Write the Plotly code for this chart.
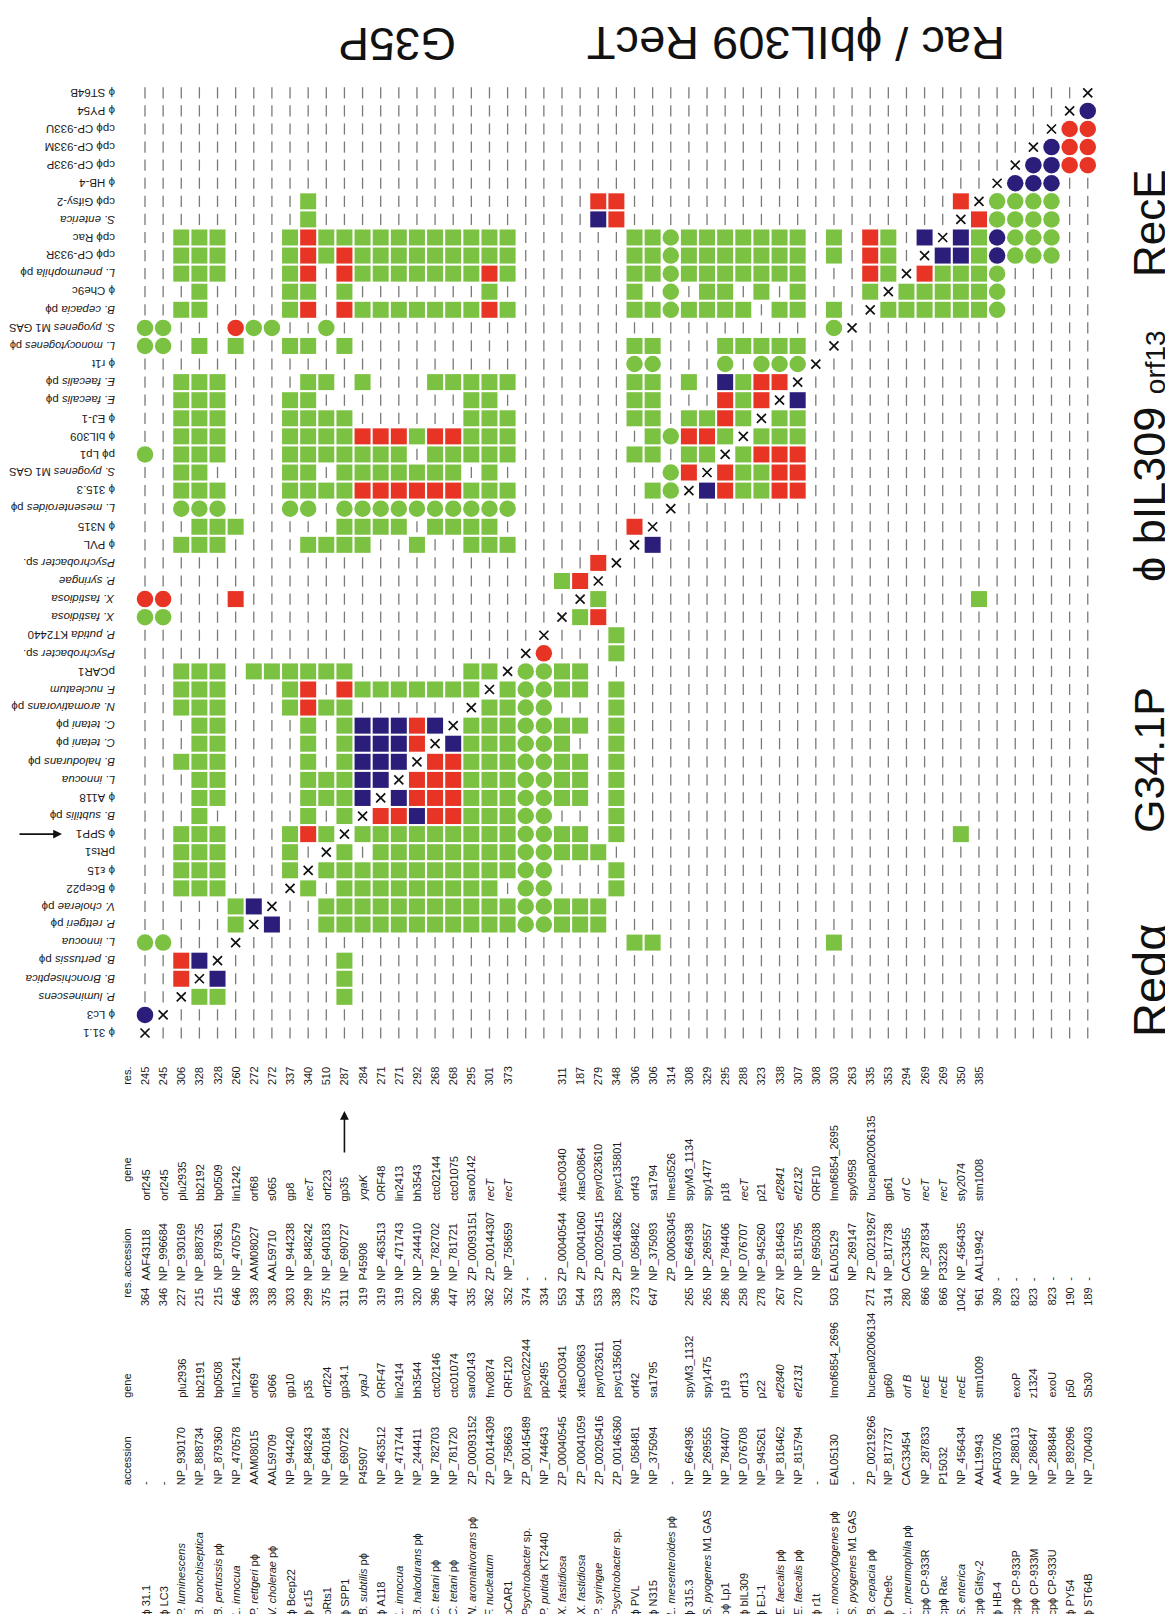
import re
import plotly.graph_objects as go

# ---------------- data ----------------
row_labels = ["ϕ 31.1", "ϕ Lc3", "<i>P. luminescens</i>", "<i>B. Bronchiseptica</i>", "<i>B. pertussis</i> pϕ",
              "<i>L. innocua</i>", "<i>P. rettgeri</i> pϕ", "<i>V. cholerae</i> pϕ", "ϕ Bcep22", "ϕ ε15", "pRts1",
              "ϕ SPP1", "<i>B. subtilis</i> pϕ", "ϕ A118", "<i>L. innocua</i>", "<i>B. halodurans</i> pϕ",
              "<i>C. tetani</i> pϕ", "<i>C. tetani</i> pϕ", "<i>N. aromativorans</i> pϕ", "<i>F. nucleatum</i>",
              "pCAR1", "<i>Psychrobacter</i> sp.", "<i>P. putida</i> KT2440", "<i>X. fastidiosa</i>",
              "<i>X. fastidiosa</i>", "<i>P. syringae</i>", "<i>Psychrobacter</i> sp.", "ϕ PVL", "ϕ N315",
              "<i>L. mesenteroides</i> pϕ", "ϕ 315.3", "<i>S. pyogenes</i> M1 GAS", "pϕ Lp1", "ϕ bIL309", "ϕ EJ-1",
              "<i>E. faecalis</i> pϕ", "<i>E. faecalis</i> pϕ", "ϕ r1t", "<i>L. monocytogenes</i> pϕ",
              "<i>S. pyogenes</i> M1 GAS", "<i>B. cepacia</i> pϕ", "ϕ Che9c", "<i>L. pneumophila</i> pϕ",
              "cpϕ CP-933R", "cpϕ Rac", "<i>S. enterica</i>", "cpϕ Gifsy-2", "ϕ HB-4", "cpϕ CP-933P",
              "cpϕ CP-933M", "cpϕ CP-933U", "ϕ PY54", "ϕ ST64B"]

table_names = ["ϕ 31.1", "ϕ LC3", "<i>P. luminescens</i>", "<i>B. bronchiseptica</i>", "<i>B. pertussis</i> pϕ",
               "<i>L. innocua</i>", "<i>P. rettgeri</i> pϕ", "<i>V. cholerae</i> pϕ", "ϕ Bcep22", "ϕ ε15", "pRts1",
               "ϕ SPP1", "<i>B. subtilis</i> pϕ", "ϕ A118", "<i>L. innocua</i>", "<i>B. halodurans</i> pϕ",
               "<i>C. tetani</i> pϕ", "<i>C. tetani</i> pϕ", "<i>N. aromativorans</i> pϕ", "<i>F. nucleatum</i>",
               "pCAR1", "<i>Psychrobacter</i> sp.", "<i>P. putida</i> KT2440", "<i>X. fastidiosa</i>",
               "<i>X. fastidiosa</i>", "<i>P. syringae</i>", "<i>Psychrobacter</i> sp.", "ϕ PVL", "ϕ N315",
               "<i>L. mesenteroides</i> pϕ", "ϕ 315.3", "<i>S. pyogenes</i> M1 GAS", "pϕ Lp1", "ϕ bIL309", "ϕ EJ-1",
               "<i>E. faecalis</i> pϕ", "<i>E. faecalis</i> pϕ", "ϕ r1t", "<i>L. monocytogenes</i> pϕ",
               "<i>S. pyogenes</i> M1 GAS", "<i>B. cepacia</i> pϕ", "ϕ Che9c", "<i>L. pneumophila</i> pϕ",
               "cpϕ CP-933R", "cpϕ Rac", "<i>S. enterica</i>", "cpϕ Gifsy-2", "ϕ HB-4", "cpϕ CP-933P",
               "cpϕ CP-933M", "cpϕ CP-933U", "ϕ PY54", "ϕ ST64B"]

acc1 = ["-", "-", "NP_930170", "NP_888734", "NP_879360", "NP_470578", "AAM08015", "AAL59709", "NP_944240",
        "NP_848243", "NP_640184", "NP_690722", "P45907", "NP_463512", "NP_471744", "NP_244411", "NP_782703",
        "NP_781720", "ZP_00093152", "ZP_00144309", "NP_758663", "ZP_00145489", "NP_744643", "ZP_00040545",
        "ZP_00041059", "ZP_00205416", "ZP_00146360", "NP_058481", "NP_375094", "-", "NP_664936", "NP_269555",
        "NP_784407", "NP_076708", "NP_945261", "NP_816462", "NP_815794", "-", "EAL05130", "-", "ZP_00219266",
        "NP_817737", "CAC33454", "NP_287833", "P15032", "NP_456434", "AAL19943", "AAF03706", "NP_288013",
        "NP_286847", "NP_288484", "NP_892096", "NP_700403"]

gene1 = ["", "", "plu2936", "bb2191", "bp0508", "lin12241", "orf69", "s066", "gp10", "p35", "orf224", "gp34.1",
         "<i>yqaJ</i>", "ORF47", "lin2414", "bh3544", "ctc02146", "ctc01074", "saro0143", "fnv0874", "ORF120",
         "psyc022244", "pp2495", "xfasO0341", "xfasO0863", "psyr023611", "psyc135601", "orf42", "sa1795", "",
         "spyM3_1132", "spy1475", "p19", "orf13", "p22", "<i>ef2840</i>", "<i>ef2131</i>", "", "lmof6854_2696", "",
         "bucepa02006134", "gp60", "<i>orf B</i>", "<i>recE</i>", "<i>recE</i>", "<i>recE</i>", "stm1009", "",
         "exoP", "z1324", "exoU", "p50", "Sb30"]

res1 = ["364", "346", "227", "215", "215", "646", "338", "338", "303", "299", "375", "311", "319", "319", "319",
        "320", "396", "447", "335", "362", "352", "374", "334", "553", "544", "533", "338", "273", "647", "",
        "265", "265", "286", "258", "278", "267", "270", "", "503", "", "271", "314", "280", "866", "866", "1042",
        "961", "309", "823", "823", "823", "190", "189"]

acc2 = ["AAF43118", "NP_996684", "NP_930169", "NP_888735", "NP_879361", "NP_470579", "AAM08027", "AAL59710",
        "NP_944238", "NP_848242", "NP_640183", "NP_690727", "P45908", "NP_463513", "NP_471743", "NP_244410",
        "NP_782702", "NP_781721", "ZP_00093151", "ZP_00144307", "NP_758659", "-", "-", "ZP_00040544",
        "ZP_00041060", "ZP_00205415", "ZP_00146362", "NP_058482", "NP_375093", "ZP_00063045", "NP_664938",
        "NP_269557", "NP_784406", "NP_076707", "NP_945260", "NP_816463", "NP_815795", "NP_695038", "EAL05129",
        "NP_269147", "ZP_00219267", "NP_817738", "CAC33455", "NP_287834", "P33228", "NP_456435", "AAL19942",
        "-", "-", "-", "-", "-", "-"]

gene2 = ["orf245", "orf245", "plu2935", "bb2192", "bp0509", "lin1242", "orf68", "s065", "gp8", "<i>recT</i>",
         "orf223", "gp35", "<i>yqaK</i>", "ORF48", "lin2413", "bh3543", "ctc02144", "ctc01075", "saro0142",
         "<i>recT</i>", "<i>recT</i>", "", "", "xfasO0340", "xfasO0864", "psyr023610", "psyc135801", "orf43",
         "sa1794", "lmes0526", "spyM3_1134", "spy1477", "p18", "<i>recT</i>", "p21", "<i>ef2841</i>",
         "<i>ef2132</i>", "ORF10", "lmof6854_2695", "spy0958", "bucepa02006135", "gp61", "<i>orf C</i>",
         "<i>recT</i>", "<i>recT</i>", "sty2074", "stm1008", "", "", "", "", "", ""]

res2 = ["245", "245", "306", "328", "328", "260", "272", "272", "337", "340", "510", "287", "284", "271", "271",
        "292", "268", "268", "295", "301", "373", "", "", "311", "187", "279", "348", "306", "306", "314", "308",
        "329", "295", "288", "323", "338", "307", "308", "303", "263", "335", "353", "294", "269", "269", "350",
        "385", "", "", "", "", "", ""]

# matrix cells per row (row 0 = bottom = ϕ31.1); column:code, ranges a-b
# g/G green square/circle, r/R red square/circle, b/B blue square/circle, X diagonal; others empty
matrix_rows = [
    "0X",
    "0B 1X",
    "2X 3-4g 11g",
    "2r 3X 4b 11g",
    "2r 3b 4X 11g",
    "0-1G 5X 27-28g 38g",
    "5g 6X 7b 10-20g 21-22G 23-25g",
    "5g 6b 7X 10-20g 21-22G 23-25g",
    "2-4g 8X 9g 11-19g 21-22G 26g",
    "2-4g 8g 9X 10-20g 21-22G 26g",
    "2-4g 8g 10X 11g 13-20g 21-22G 23-25g",
    "2-4g 8g 9r 10g 11X 12-20g 21-22G 23-24g 26g 45g",
    "3g 9g 11g 12X 13-14r 15b 16-17r 18-20g 21-22G 26g",
    "3-4g 9-11g 12b 13X 14b 15-17r 18-20g 21-22G 23-24g 26g",
    "3-4g 9-11g 12-13b 14X 15-17r 18-20g 21-22G 23-24g 26g",
    "2-4g 9g 11g 12-14b 15X 16-17r 18-20g 21-22G 23-24g 26g",
    "3-4g 9g 11g 12-14b 15r 16X 17b 18-20g 21-22G 23g 26g",
    "3-4g 9g 11g 12-14b 15r 16b 17X 18-20g 21-22G 23-24g 26g",
    "2-4g 8g 9r 10-11g 18X 19-20g 21-22G 26g",
    "2-4g 8g 9r 11r 12-18g 19X 20g 21-22G 23-24g 26g",
    "2-4g 6-11g 18-19g 20X 21-22G 23-24g",
    "21X 22R 26g",
    "22X 26g",
    "0-1G 23X 24g 25r",
    "0-1R 5r 24X 25g 46g",
    "23g 24r 25X",
    "25r 26X",
    "2-4g 9-12g 15g 18-20g 27X 28b",
    "3-5g 11-14g 16-19g 27r 28X",
    "2-4G 8-9G 11-20G 29X",
    "2-4g 8-11g 12-17r 18-20g 28g 29G 30X 31b 32r 33-34g 35-36r",
    "2-3g 8-9g 11-17g 19g 29G 30r 31X 32r 33-34g 35-36r",
    "0G 2-4g 8-14g 16-20g 27-28g 30-31g 32X 33g 34-36r",
    "2-4g 8-11g 12-14r 15g 16-17r 18-20g 28g 29G 30-31r 32g 33X 34-36g",
    "2-4g 8-11g 18-20g 27-28g 30-31g 32r 33g 34X 35-36g",
    "2-4g 8-9g 18-19g 27-28g 32r 33g 34r 35X 36b",
    "2-4g 9-10g 12g 16-20g 27-28g 30g 32b 33g 34-35r 36X",
    "27-28G 32G 34-36G 37X",
    "0-1G 3g 5g 8-9g 11g 27-28g 32-36g 38X",
    "0-1G 5R 6-7G 10G 38G 39X",
    "2-3g 8g 9r 11r 12-18g 19r 20g 27-28g 29G 30-33g 35-36g 38g 40X 41-46g 47G",
    "3g 8-9g 11g 19g 27g 29G 31-32g 34g 36g 40g 41X 42-46g 47G",
    "2-4g 8g 9r 11r 12-18g 19r 20g 27-28g 29G 30-36g 40r 41g 42X 43r 44-46g 47G",
    "2-4g 8g 9r 10g 11r 12-20g 27-28g 29G 30-36g 38g 40r 41g 43X 44-45b 46g 47B 48-50G",
    "2-4g 8g 9r 10-20g 27-28g 29G 30-36g 38g 40r 41g 43b 44X 45b 46g 47B 48-50G",
    "9g 25b 26r 45X 46r 47-50G",
    "9g 25-26r 45r 46X 47-50G",
    "47X 48-50B",
    "48X 49-50B 51-52R",
    "49X 50B 51-52R",
    "50X 51-52R",
    "51X 52B",
    "52X",
]

# ---------------- geometry (pixel -> data) ----------------
W, H = 1173, 1614
X0, DX = 137.0, 18.13   # column 0 centre and step (px)
Y0, DY = 1025.0, 18.08  # row 0 centre and step (px from top)


def xd(px):
    return (px - X0) / DX


def yd(py):
    return (Y0 - py) / DY


# approximate Arial advance widths (em), used only to keep long labels inside the page
_W = {}
for ch in "0123456789_abdeghnopqu":
    _W[ch] = 0.556
_W.update({" ": 0.278, ".": 0.278, "-": 0.333, "c": 0.5, "k": 0.5, "s": 0.5, "v": 0.5, "x": 0.5, "y": 0.5,
           "z": 0.5, "f": 0.278, "t": 0.278, "i": 0.222, "j": 0.222, "l": 0.222, "r": 0.333, "m": 0.833,
           "w": 0.722, "ϕ": 0.62, "ε": 0.46, "I": 0.278, "L": 0.556, "F": 0.611, "T": 0.611, "M": 0.833,
           "C": 0.722, "D": 0.722, "H": 0.722, "N": 0.722, "R": 0.722, "U": 0.722, "G": 0.778, "O": 0.778})


def text_width(t, size):
    plain = re.sub(r"<[^>]+>", "", t)
    return sum(_W.get(ch, 0.667) for ch in plain) * size


N = len(row_labels)


def parse(spec):
    d = {}
    for tok in spec.split():
        code, rng = tok[-1], tok[:-1]
        if "-" in rng:
            a, b = map(int, rng.split("-"))
        else:
            a = b = int(rng)
        for c in range(a, b + 1):
            d[c] = code
    return d


GREEN = "rgb(124,194,66)"
RED = "rgb(232,52,36)"
BLUE = "rgb(42,30,122)"
styles = {
    ".": dict(symbol="line-ns", size=8, color="#7a7a7a", line=dict(color="#7a7a7a", width=1.3)),
    "g": dict(symbol="square", size=16, color=GREEN, line=dict(width=0)),
    "r": dict(symbol="square", size=16, color=RED, line=dict(width=0)),
    "b": dict(symbol="square", size=16, color=BLUE, line=dict(width=0)),
    "G": dict(symbol="circle", size=16.5, color=GREEN, line=dict(width=0)),
    "R": dict(symbol="circle", size=16.5, color=RED, line=dict(width=0)),
    "B": dict(symbol="circle", size=16.5, color=BLUE, line=dict(width=0)),
    "X": dict(symbol="x-thin", size=9, color="#111", line=dict(color="#111", width=1.7)),
}

pts = {k: ([], []) for k in styles}
for r, spec in enumerate(matrix_rows):
    d = parse(spec)
    for c in range(N):
        code = d.get(c, ".")
        pts[code][0].append(c)
        pts[code][1].append(r)

fig = go.Figure()
for code in [".", "g", "r", "b", "G", "R", "B", "X"]:
    xs, ys = pts[code]
    fig.add_trace(go.Scatter(x=xs, y=ys, mode="markers", marker=styles[code],
                             hoverinfo="skip", showlegend=False))

FONT = "Liberation Sans, Arial, Helvetica, sans-serif"
TXT = "#1a1a1a"
FS = 11.5
TFS = 11
ann = []

# row labels on the left (upside down), long ones shrunk to stay on the page
LABEL_RIGHT = 109
for r, lab in enumerate(row_labels):
    fs = FS
    w = text_width(lab, fs)
    if w > LABEL_RIGHT - 3:
        fs = FS * (LABEL_RIGHT - 3) / w
    ann.append(dict(x=xd(LABEL_RIGHT), y=r, text=lab, textangle=180, xanchor="right", yanchor="middle",
                    showarrow=False, font=dict(family=FONT, size=fs, color=TXT)))

# bottom table (rotated, reads bottom-to-top)
fields = [
    (table_names, 1610, "bottom", None),
    (acc1, 1479, "bottom", ("accession", 1479)),
    (gene1, 1392, "bottom", ("gene", 1392)),
    (res1, 1278, "top", ("res.", 1292)),
    (acc2, 1275, "bottom", ("accession", 1271)),
    (gene2, 1195, "bottom", ("gene", 1176)),
    (res2, 1079, "bottom", ("res.", 1079)),
]
for vals, ypx, anchor, header in fields:
    for c, t in enumerate(vals):
        if t == "":
            continue
        ann.append(dict(x=c, y=yd(ypx), text=t, textangle=-90, xanchor="center", yanchor=anchor,
                        showarrow=False, font=dict(family=FONT, size=TFS, color=TXT)))
    if header:
        ann.append(dict(x=-1, y=yd(header[1]), text=header[0], textangle=-90, xanchor="center",
                        yanchor="bottom", showarrow=False, font=dict(family=FONT, size=TFS, color=TXT)))

# titles at top (upside down)
ann.append(dict(x=xd(389), y=yd(36), text="G35P", textangle=180, showarrow=False,
                font=dict(family=FONT, size=46, color="#111")))
ann.append(dict(x=xd(788), y=yd(36), text="Rac / ϕbIL309 RecT", textangle=180, showarrow=False,
                font=dict(family=FONT, size=47, color="#111")))

# titles on the right (read bottom-to-top)
right_titles = [("RecE", 215, 44), ("ϕ bIL309 <span style='font-size:28px'>orf13</span>", 448, 45),
                ("G34.1P", 752, 43), ("Redα", 973, 47)]
for t, ypx, fs in right_titles:
    ann.append(dict(x=xd(1141), y=yd(ypx), text=t, textangle=-90, showarrow=False,
                    xanchor="center", yanchor="middle", font=dict(family=FONT, size=fs, color="#111")))

# arrows marking ϕSPP1
ann.append(dict(x=xd(54), y=11, ax=-44, ay=0, text="", showarrow=True, arrowhead=2, arrowsize=1.1,
                arrowwidth=1.6, arrowcolor="#111", standoff=0))
ann.append(dict(x=11, y=yd(1103), ax=0, ay=43, text="", showarrow=True, arrowhead=2, arrowsize=1.1,
                arrowwidth=1.6, arrowcolor="#111", standoff=0))

fig.update_layout(
    width=W, height=H, margin=dict(l=0, r=0, t=0, b=0, pad=0),
    paper_bgcolor="white", plot_bgcolor="white",
    xaxis=dict(range=[xd(0), xd(W)], visible=False, fixedrange=True),
    yaxis=dict(range=[yd(H), yd(0)], visible=False, fixedrange=True),
    annotations=ann,
)
fig.write_html("out.html")
